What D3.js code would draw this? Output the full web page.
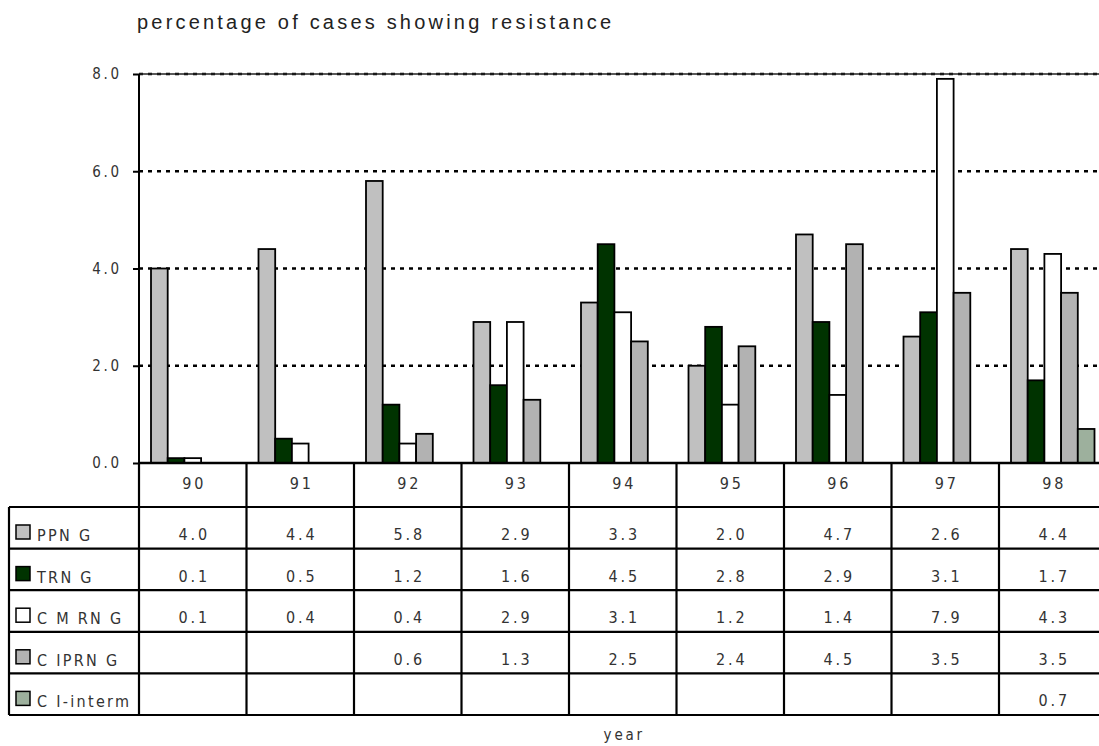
<!DOCTYPE html>
<html>
<head>
<meta charset="utf-8">
<script src="https://cdn.jsdelivr.net/npm/d3@7/dist/d3.min.js"></script>
<style>
  body { margin: 0; background: #fff; }
  svg { display: block; }
  .lbl { font-family: "DejaVu Sans Condensed", "DejaVu Sans", sans-serif; font-size: 16px; fill: #333; letter-spacing: 2.8px; }
  .title { font-family: "Liberation Sans", Arial, sans-serif; font-size: 20px; fill: #222; letter-spacing: 3.2px; }
</style>
</head>
<body>
<svg id="chart"></svg>
<script>
// data
const years = ["90", "91", "92", "93", "94", "95", "96", "97", "98"]
const seriesNames = ["PPN G", "TRN G", "C M RN G", "C IPRN G", "C I-interm"]
const ppng = [4.0, 4.4, 5.8, 2.9, 3.3, 2.0, 4.7, 2.6, 4.4]
const trng = [0.1, 0.5, 1.2, 1.6, 4.5, 2.8, 2.9, 3.1, 1.7]
const cmrng = [0.1, 0.4, 0.4, 2.9, 3.1, 1.2, 1.4, 7.9, 4.3]
const ciprng = [null, null, 0.6, 1.3, 2.5, 2.4, 4.5, 3.5, 3.5]
const ciInterm = [null, null, null, null, null, null, null, null, 0.7]
const yTicks = [0, 2, 4, 6, 8]
const colours = ["#c0c0c0", "#003300", "#ffffff", "#b2b2b2", "#9db09d"]

const allSeries = [ppng, trng, cmrng, ciprng, ciInterm]

const width = 1099, height = 746
const svg = d3.select("#chart").attr("width", width).attr("height", height)

const plotLeft = 139, colW = 107.5
const plotTop = 74, base = 463

const x = d3.scaleBand().domain(years).range([plotLeft, plotLeft + colW * years.length])
const xs = d3.scaleBand().domain(seriesNames).range([12, colW - 12])
const y = d3.scaleLinear().domain([0, 8]).range([base, plotTop])

// title
svg.append("text").attr("class", "title")
    .attr("x", 137).attr("y", 29)
    .text("percentage of cases showing resistance")

// gridlines
svg.append("g").selectAll("line")
    .data(yTicks.filter(d => d > 0)).enter().append("line")
    .attr("x1", plotLeft).attr("x2", width)
    .attr("y1", d => y(d)).attr("y2", d => y(d))
    .attr("stroke", "#000").attr("stroke-width", 2.5)
    .attr("stroke-dasharray", "4,5")

// top line
svg.append("line")
    .attr("x1", plotLeft).attr("x2", width)
    .attr("y1", y(8)).attr("y2", y(8))
    .attr("stroke", "#222").attr("stroke-width", 1.5)

// bars
const groups = svg.append("g").selectAll("g")
    .data(years).enter().append("g")
    .attr("transform", d => `translate(${x(d)},0)`)

groups.selectAll("rect")
    .data((d, i) => seriesNames.map((s, j) => ({ s, j, v: allSeries[j][i] })).filter(e => e.v != null))
    .enter().append("rect")
    .attr("x", d => xs(d.s))
    .attr("width", xs.bandwidth())
    .attr("y", d => y(d.v))
    .attr("height", d => base - y(d.v))
    .attr("fill", d => colours[d.j])
    .attr("stroke", "#000").attr("stroke-width", 1.8)

// y axis
const yAxis = svg.append("g").attr("transform", `translate(${plotLeft},0)`)
    .call(d3.axisLeft(y).tickValues(yTicks).tickSize(6).tickFormat(d3.format(".1f")))
yAxis.select(".domain").attr("stroke", "#000").attr("stroke-width", 2)
    .attr("d", `M0,${plotTop}V${base}`)
yAxis.selectAll(".tick line").attr("stroke", "#000").attr("stroke-width", 2)
yAxis.selectAll(".tick text").attr("class", "lbl").attr("x", -17)
    .style("font-size", "15px")

// data table
const headerH = 44, rowH = 41.6
const rowsTop = base + headerH
const tableBottom = rowsTop + rowH * seriesNames.length
const tableRight = plotLeft + colW * years.length
const tbl = svg.append("g")

// horizontal lines
tbl.append("line").attr("x1", plotLeft).attr("x2", tableRight)
    .attr("y1", base).attr("y2", base).attr("stroke", "#000").attr("stroke-width", 2.5)
d3.range(seriesNames.length + 1).forEach(i => {
    tbl.append("line").attr("x1", 9).attr("x2", tableRight)
        .attr("y1", rowsTop + i * rowH).attr("y2", rowsTop + i * rowH)
        .attr("stroke", "#000").attr("stroke-width", 2.2)
})
// vertical lines
tbl.append("line").attr("x1", 9).attr("x2", 9)
    .attr("y1", rowsTop).attr("y2", tableBottom).attr("stroke", "#000").attr("stroke-width", 2.2)
years.forEach(yr => {
    tbl.append("line").attr("x1", x(yr)).attr("x2", x(yr))
        .attr("y1", base).attr("y2", tableBottom)
        .attr("stroke", "#000").attr("stroke-width", 2.2)
})

// header labels
tbl.selectAll(".yr").data(years).enter().append("text")
    .attr("class", "lbl")
    .attr("x", d => x(d) + colW / 2 + 1.5)
    .attr("y", base + 26)
    .attr("text-anchor", "middle")
    .text(d => d)

// row legend + values
seriesNames.forEach((s, j) => {
    const ry = rowsTop + j * rowH
    tbl.append("rect").attr("x", 16).attr("y", ry + 18).attr("width", 14).attr("height", 14)
        .attr("fill", colours[j]).attr("stroke", "#000").attr("stroke-width", 1.5)
    tbl.append("text").attr("class", "lbl").attr("x", 37).attr("y", ry + 34)
        .style("letter-spacing", "2.3px")
        .text(s)
    tbl.selectAll(null).data(allSeries[j].map((v, i) => ({ v, yr: years[i] })).filter(d => d.v != null))
        .enter().append("text").attr("class", "lbl")
        .attr("x", d => x(d.yr) + colW / 2 + 1.5)
        .attr("y", ry + 33)
        .attr("text-anchor", "middle")
        .text(d => d.v.toFixed(1))
})

// x label
svg.append("text").attr("class", "lbl")
    .attr("x", (plotLeft + tableRight) / 2 + 1.5).attr("y", 740)
    .attr("text-anchor", "middle")
    .style("font-size", "15px")
    .text("year")
</script>
</body>
</html>
